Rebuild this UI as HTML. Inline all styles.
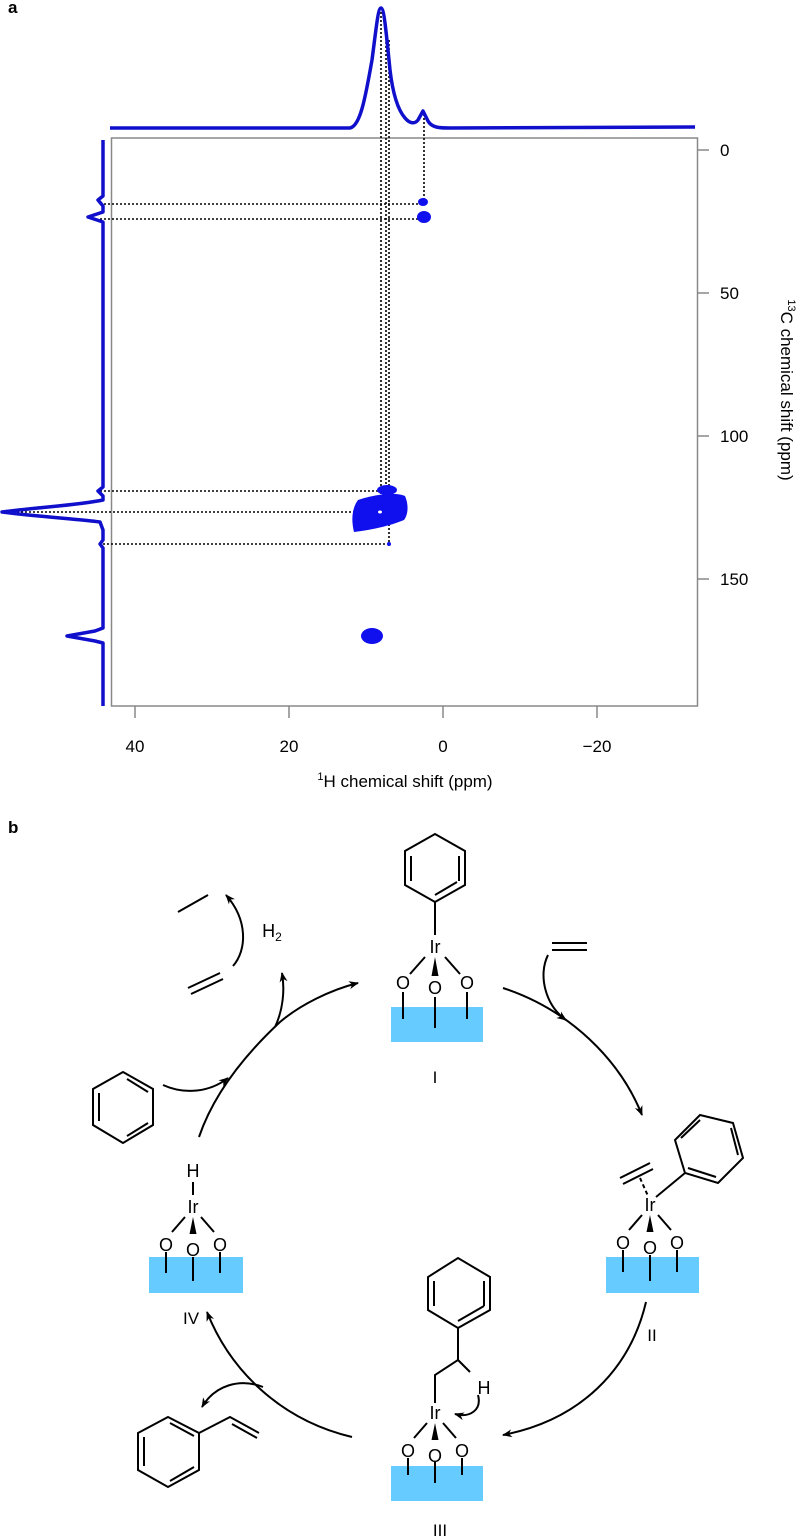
<!DOCTYPE html>
<html><head><meta charset="utf-8"><style>
html,body{margin:0;padding:0;background:#fff}
svg{display:block;font-family:"Liberation Sans",Arial,sans-serif}
</style></head><body>
<svg width="800" height="1538" viewBox="0 0 800 1538" xmlns="http://www.w3.org/2000/svg">
<defs>
<marker id="ah" viewBox="0 0 10 10" refX="9" refY="5" markerWidth="10" markerHeight="10" orient="auto" markerUnits="userSpaceOnUse"><path d="M0,1 L10,5 L0,9 L3,5 Z" fill="#000"/></marker>
<g id="site">
<text x="0" y="6" font-size="18" text-anchor="middle">Ir</text>
<line x1="-10" y1="10" x2="-25" y2="27" stroke="#000" stroke-width="2"/>
<line x1="10" y1="10" x2="25" y2="27" stroke="#000" stroke-width="2"/>
<polygon points="0,10 -3.5,29 3.5,29" fill="#000"/>
<text x="-32" y="42" font-size="18" text-anchor="middle">O</text>
<text x="0" y="47" font-size="18" text-anchor="middle">O</text>
<text x="32" y="42" font-size="18" text-anchor="middle">O</text>
</g>
<g id="site2">
<text x="0" y="6" font-size="18" text-anchor="middle">Ir</text>
<line x1="-8" y1="10" x2="-21" y2="25" stroke="#000" stroke-width="2"/>
<line x1="8" y1="10" x2="21" y2="25" stroke="#000" stroke-width="2"/>
<polygon points="0,10 -3.5,27 3.5,27" fill="#000"/>
<text x="-27" y="44" font-size="18" text-anchor="middle">O</text>
<text x="0" y="49" font-size="18" text-anchor="middle">O</text>
<text x="27" y="44" font-size="18" text-anchor="middle">O</text>
</g>
</defs>
<text x="8" y="13" font-size="17" font-weight="bold">a</text>
<text x="8" y="833" font-size="17" font-weight="bold">b</text>

<rect x="111.5" y="138" width="586" height="568" fill="none" stroke="#888" stroke-width="1.5"/>
<g stroke="#888" stroke-width="1.5">
<line x1="135" y1="706" x2="135" y2="718"/><line x1="289" y1="706" x2="289" y2="718"/>
<line x1="443" y1="706" x2="443" y2="718"/><line x1="597" y1="706" x2="597" y2="718"/>
<line x1="697" y1="150" x2="709" y2="150"/><line x1="697" y1="293" x2="709" y2="293"/>
<line x1="697" y1="436" x2="709" y2="436"/><line x1="697" y1="579" x2="709" y2="579"/>
</g>
<g font-size="17" text-anchor="middle">
<text x="135" y="752">40</text><text x="289" y="752">20</text><text x="443" y="752">0</text><text x="597" y="752">−20</text>
</g>
<g font-size="17">
<text x="720" y="156">0</text><text x="720" y="299">50</text><text x="720" y="442">100</text><text x="720" y="585">150</text>
</g>
<text x="405" y="787" font-size="17" text-anchor="middle"><tspan font-size="11" dy="-7">1</tspan><tspan dy="7">H chemical shift (ppm)</tspan></text>
<text transform="translate(781,390) rotate(90)" font-size="17" text-anchor="middle"><tspan font-size="11" dy="-7">13</tspan><tspan dy="7">C chemical shift (ppm)</tspan></text>

<g stroke="#000" stroke-width="1.6" stroke-dasharray="2,2" fill="none">
<line x1="100" y1="204" x2="421" y2="204"/><line x1="100" y1="219" x2="421" y2="219"/>
<line x1="100" y1="491" x2="386" y2="491"/><line x1="5" y1="512" x2="375" y2="512"/>
<line x1="103" y1="544" x2="389" y2="544"/>
<line x1="381" y1="12" x2="381" y2="512"/><line x1="386" y1="30" x2="386" y2="491"/>
<line x1="389" y1="40" x2="389" y2="544"/><line x1="424" y1="114" x2="424" y2="200"/>
</g>

<g stroke="#1010cc" stroke-width="3.5" fill="none" stroke-linejoin="round">
<path d="M110,128 L350,128 C360,126 365,100 372,60 C376,30 378,8 381,8 C384,8 386,30 390,70 C393,95 398,110 405,118 C410,124 415,124 418,120 L423,111 L428,121 C432,128 440,128 450,128 L695,127"/>
<path d="M103,140 L103,196 L98,200 L103,206 L103,212 L88,217 L103,222 L103,487 L98,491 L103,496 L103,500 C80,505 40,507 2,512 C40,517 80,519 100,522 L103,530 L103,540 L100,544 L103,548 L103,628 L95,631 L67,636 L95,641 L103,643 L103,706"/>
</g>
<g fill="#1010ee">
<ellipse cx="423" cy="202" rx="5" ry="4"/>
<ellipse cx="424" cy="217" rx="7" ry="6"/>
<ellipse cx="387" cy="490" rx="10" ry="5"/>
<path d="M358,500 C375,494 395,492 405,496 C409,505 408,515 404,520 C390,526 370,530 354,532 C351,520 352,508 358,500 Z"/>
<circle cx="389" cy="544" r="2"/>
<ellipse cx="372" cy="636" rx="11" ry="8"/>
</g>
<ellipse cx="380" cy="512" rx="2" ry="1.5" fill="#fff"/>

<g stroke="#000" stroke-width="2" fill="none">
<polygon points="435,834 465,851 465,885 435,902 405,885 405,851"/>
<line x1="459" y1="856" x2="459" y2="881"/><line x1="411" y1="856" x2="411" y2="881"/><line x1="435" y1="895" x2="457" y2="882"/>
<line x1="435" y1="902" x2="435" y2="935"/>
<polygon points="675,1140 700,1115 733,1123 743,1158 718,1183 685,1173"/>
<line x1="681" y1="1138" x2="700" y2="1120"/><line x1="731" y1="1128" x2="738" y2="1155"/><line x1="688" y1="1168" x2="716" y2="1177"/>
<line x1="656" y1="1197" x2="685" y2="1173"/>
<line x1="620" y1="1178" x2="650" y2="1163"/><line x1="623" y1="1184" x2="653" y2="1169"/>
<line x1="640" y1="1178" x2="648" y2="1196" stroke-dasharray="4,3"/>
<polyline points="435,1403 435,1375 458,1360 458,1328"/>
<line x1="458" y1="1360" x2="470" y2="1372"/>
<polygon points="458,1328 490,1310 490,1277 458,1258 428,1277 428,1310"/>
<line x1="484" y1="1306" x2="458" y2="1321"/><line x1="484" y1="1281" x2="484" y2="1306"/><line x1="434" y1="1281" x2="434" y2="1306"/>
<path d="M478,1395 C482,1410 470,1418 455,1414" marker-end="url(#ah)"/>
<line x1="193" y1="1182" x2="193" y2="1195"/>
<polygon points="123,1072 153,1089 153,1125 123,1143 93,1125 93,1089"/>
<line x1="99" y1="1093" x2="99" y2="1121"/><line x1="127" y1="1079" x2="148" y2="1092"/><line x1="127" y1="1136" x2="148" y2="1123"/>
<line x1="178" y1="912" x2="208" y2="895"/>
<line x1="188" y1="988" x2="220" y2="973"/><line x1="191" y1="994" x2="223" y2="979"/>
<line x1="552" y1="943" x2="587" y2="943"/><line x1="552" y1="950" x2="587" y2="950"/>
<polygon points="138,1433 168,1417 199,1433 199,1470 168,1487 138,1470"/>
<line x1="144" y1="1437" x2="144" y2="1466"/><line x1="170" y1="1423" x2="194" y2="1436"/><line x1="170" y1="1481" x2="194" y2="1467"/>
<polyline points="199,1433 230,1417 259,1433"/><line x1="232" y1="1424" x2="257" y2="1438"/>

<path d="M199,1137 C215,1090 250,1050 280,1022 C300,1005 330,990 358,983" marker-end="url(#ah)"/>
<path d="M163,1085 C185,1095 210,1092 228,1078" marker-end="url(#ah)"/>
<path d="M275,1027 C283,1010 285,990 282,973" marker-end="url(#ah)"/>
<path d="M233,966 C247,950 248,920 226,895" marker-end="url(#ah)"/>
<path d="M503,988 C570,1010 620,1060 642,1115" marker-end="url(#ah)"/>
<path d="M548,955 C538,975 545,1005 566,1020" marker-end="url(#ah)"/>
<path d="M646,1302 C630,1370 580,1420 503,1435" marker-end="url(#ah)"/>
<path d="M352,1437 C280,1420 230,1370 207,1312" marker-end="url(#ah)"/>
<path d="M263,1387 C240,1378 215,1385 202,1407" marker-end="url(#ah)"/>
</g>
<text x="272" y="937" font-size="18" text-anchor="middle">H<tspan font-size="12" dy="4">2</tspan></text>
<text x="193" y="1177" font-size="18" text-anchor="middle">H</text>
<text x="484" y="1394" font-size="18" text-anchor="middle">H</text>

<rect x="391" y="1007" width="92" height="35" fill="#66ccff"/>
<rect x="606" y="1257" width="93" height="36" fill="#66ccff"/>
<rect x="391" y="1466" width="92" height="35" fill="#66ccff"/>
<rect x="149" y="1257" width="94" height="36" fill="#66ccff"/>
<g stroke="#000" stroke-width="2">
<line x1="403" y1="992" x2="403" y2="1019"/><line x1="435" y1="997" x2="435" y2="1028"/><line x1="467" y1="992" x2="467" y2="1019"/>
<line x1="623" y1="1250" x2="623" y2="1272"/><line x1="650" y1="1255" x2="650" y2="1281"/><line x1="677" y1="1250" x2="677" y2="1272"/>
<line x1="408" y1="1458" x2="408" y2="1475"/><line x1="435" y1="1462" x2="435" y2="1483"/><line x1="462" y1="1458" x2="462" y2="1475"/>
<line x1="166" y1="1252" x2="166" y2="1273"/><line x1="193" y1="1257" x2="193" y2="1281"/><line x1="220" y1="1252" x2="220" y2="1273"/>
</g>
<use href="#site" x="435" y="947"/>
<use href="#site2" x="650" y="1205"/>
<use href="#site2" x="435" y="1413"/>
<use href="#site2" x="193" y="1207"/>
<g font-size="17" text-anchor="middle">
<text x="435" y="1083">I</text><text x="652" y="1341">II</text><text x="440" y="1536">III</text><text x="191" y="1324">IV</text>
</g>
</svg>
</body></html>
